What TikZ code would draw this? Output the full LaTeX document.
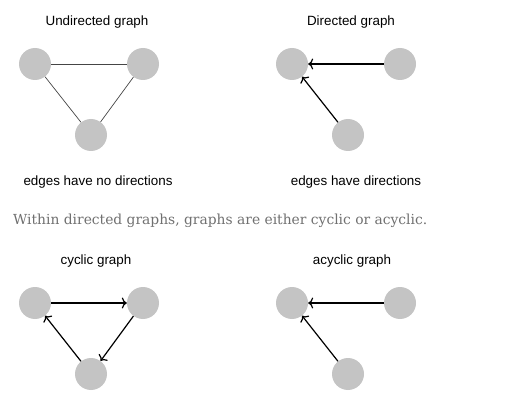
\documentclass[tikz,border=0pt]{standalone}
\usepackage{fontspec}
\setmainfont{Liberation Sans}
\newfontfamily\serifgray{DejaVu Serif}
\usetikzlibrary{arrows.meta}
\definecolor{nodegray}{HTML}{C4C4C4}
\definecolor{textgray}{HTML}{707070}
\definecolor{edgegray}{HTML}{454545}
\begin{document}
\begin{tikzpicture}[x=1pt,y=-1pt,
  vert/.style={circle,fill=nodegray,minimum size=32pt,inner sep=0pt},
  lbl/.style={font=\fontsize{13.4}{15}\selectfont,text=black},
  undir/.style={draw=edgegray,line width=0.7pt},
  dir/.style={draw=black,line width=1.2pt,-{To[length=5pt,width=11pt,line width=1.2pt]}}]
\useasboundingbox (0,0) rectangle (520,417);
% top left
\node[lbl] (t1) at (97,22.5) {Undirected graph};
\node[vert] (a1) at (35,64) {};
\node[vert] (b1) at (143,64) {};
\node[vert] (c1) at (91,135) {};
\draw[undir] (a1) -- (b1);
\draw[undir] (a1) -- (c1);
\draw[undir] (b1) -- (c1);
\node[lbl] (s1) at (98,182.5) {edges have no directions};
% top right
\node[lbl] (t2) at (351,22.5) {Directed graph};
\node[vert] (a2) at (292,64) {};
\node[vert] (b2) at (400,64) {};
\node[vert] (c2) at (348,135) {};
\draw[dir] (b2) -- (a2);
\draw[dir] (c2) -- (a2);
\node[lbl] (s2) at (356,182.5) {edges have directions};
% sentence
\node[anchor=west,inner sep=0pt,text=textgray] (sent) at (13,220.5) {\resizebox{414pt}{!}{\serifgray Within directed graphs, graphs are either cyclic or acyclic.}};
% bottom left
\node[lbl] (t3) at (96,261.5) {cyclic graph};
\node[vert] (a3) at (35,303) {};
\node[vert] (b3) at (143,303) {};
\node[vert] (c3) at (91,374) {};
\draw[dir] (a3) -- (b3);
\draw[dir] (b3) -- (c3);
\draw[dir] (c3) -- (a3);
% bottom right
\node[lbl] (t4) at (352,261.5) {acyclic graph};
\node[vert] (a4) at (292,303) {};
\node[vert] (b4) at (400,303) {};
\node[vert] (c4) at (348,374) {};
\draw[dir] (b4) -- (a4);
\draw[dir] (c4) -- (a4);
\end{tikzpicture}
\end{document}
